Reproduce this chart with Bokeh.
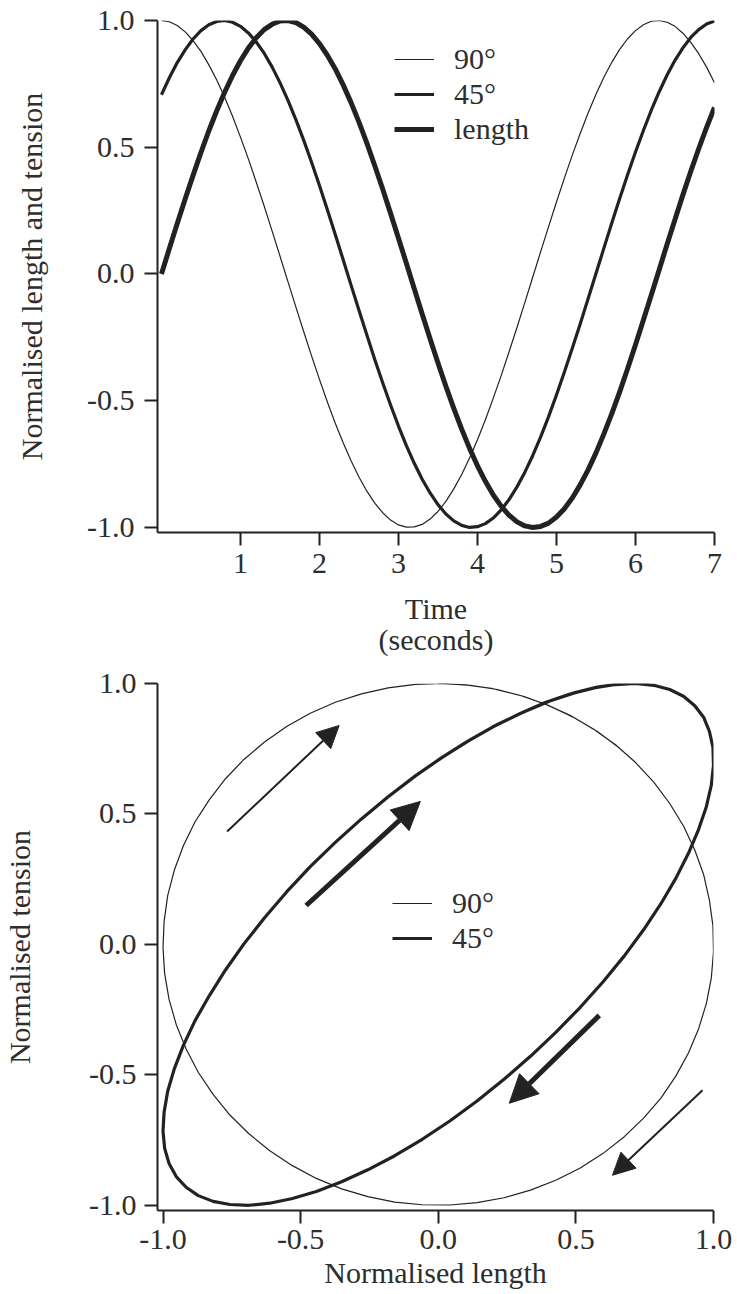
from bokeh.plotting import figure
from bokeh.models import FixedTicker, Legend, LegendItem, Arrow, NormalHead, Range1d
from bokeh.layouts import column
from bokeh.embed import file_html
from bokeh.resources import INLINE

# ---------------- data ----------------
time_s = [0.0, 0.1, 0.2, 0.3, 0.4, 0.5, 0.6, 0.7, 0.8, 0.9,
          1.0, 1.1, 1.2, 1.3, 1.4, 1.5, 1.6, 1.7, 1.8, 1.9,
          2.0, 2.1, 2.2, 2.3, 2.4, 2.5, 2.6, 2.7, 2.8, 2.9,
          3.0, 3.1, 3.2, 3.3, 3.4, 3.5, 3.6, 3.7, 3.8, 3.9,
          4.0, 4.1, 4.2, 4.3, 4.4, 4.5, 4.6, 4.7, 4.8, 4.9,
          5.0, 5.1, 5.2, 5.3, 5.4, 5.5, 5.6, 5.7, 5.8, 5.9,
          6.0, 6.1, 6.2, 6.3, 6.4, 6.5, 6.6, 6.7, 6.8, 6.9, 7.0]

# tension, 90 degree phase
tension_90 = [1.000, 0.995, 0.980, 0.955, 0.921, 0.878, 0.825, 0.765, 0.697, 0.622,
              0.540, 0.454, 0.362, 0.268, 0.170, 0.071, -0.029, -0.129, -0.227, -0.323,
              -0.416, -0.505, -0.589, -0.666, -0.737, -0.801, -0.857, -0.904, -0.942, -0.971,
              -0.990, -0.999, -0.998, -0.988, -0.967, -0.937, -0.897, -0.848, -0.791, -0.726,
              -0.654, -0.575, -0.490, -0.401, -0.307, -0.211, -0.112, -0.012, 0.088, 0.187,
              0.284, 0.378, 0.469, 0.554, 0.635, 0.709, 0.776, 0.835, 0.886, 0.928,
              0.960, 0.983, 0.997, 1.000, 0.993, 0.977, 0.950, 0.914, 0.869, 0.816, 0.754]

# tension, 45 degree phase
tension_45 = [0.707, 0.774, 0.834, 0.884, 0.927, 0.960, 0.983, 0.996, 1.000, 0.993,
              0.977, 0.951, 0.915, 0.871, 0.817, 0.755, 0.686, 0.610, 0.528, 0.441,
              0.349, 0.253, 0.156, 0.056, -0.044, -0.143, -0.241, -0.337, -0.429, -0.517,
              -0.600, -0.677, -0.747, -0.810, -0.864, -0.910, -0.947, -0.974, -0.992, -1.000,
              -0.997, -0.985, -0.963, -0.931, -0.890, -0.840, -0.782, -0.716, -0.643, -0.563,
              -0.477, -0.387, -0.293, -0.197, -0.098, 0.002, 0.102, 0.201, 0.298, 0.391,
              0.481, 0.566, 0.646, 0.719, 0.785, 0.843, 0.892, 0.933, 0.964, 0.986, 0.998]

# normalised length
length = [0.000, 0.100, 0.199, 0.296, 0.389, 0.479, 0.565, 0.644, 0.717, 0.783,
          0.841, 0.891, 0.932, 0.964, 0.985, 0.998, 1.000, 0.992, 0.974, 0.946,
          0.909, 0.863, 0.809, 0.746, 0.676, 0.599, 0.516, 0.427, 0.335, 0.239,
          0.141, 0.042, -0.058, -0.158, -0.256, -0.351, -0.443, -0.530, -0.612, -0.688,
          -0.757, -0.818, -0.872, -0.916, -0.952, -0.978, -0.994, -1.000, -0.996, -0.983,
          -0.959, -0.926, -0.884, -0.832, -0.773, -0.706, -0.631, -0.551, -0.465, -0.374,
          -0.279, -0.182, -0.083, 0.017, 0.117, 0.215, 0.312, 0.405, 0.494, 0.578, 0.657]

series_names = ["90°", "45°", "length"]

top_x_ticks = [1, 2, 3, 4, 5, 6, 7]
top_x_labels = ["1", "2", "3", "4", "5", "6", "7"]
unit_ticks = [-1.0, -0.5, 0.0, 0.5, 1.0]
unit_labels = ["-1.0", "-0.5", "0.0", "0.5", "1.0"]

# direction arrows in the length/tension plane (start -> tip)
thin_arrow_x0 = [-0.767, 0.960]
thin_arrow_y0 = [0.433, -0.559]
thin_arrow_x1 = [-0.360, 0.633]
thin_arrow_y1 = [0.839, -0.885]
thick_arrow_x0 = [-0.480, 0.585]
thick_arrow_y0 = [0.149, -0.272]
thick_arrow_x1 = [-0.065, 0.258]
thick_arrow_y1 = [0.548, -0.609]

# ---------------- styling ----------------
FONT = "Liberation Serif"
TXT = "#2e2e2e"
INK = "#222222"
TICK_FS = "30px"
LABEL_FS = "30px"


def style(p, xticks, xlabels, yticks, ylabels):
    p.xgrid.visible = False
    p.ygrid.visible = False
    p.outline_line_color = None
    for ax, ticks, labels in ((p.xaxis[0], xticks, xlabels), (p.yaxis[0], yticks, ylabels)):
        ax.ticker = FixedTicker(ticks=ticks)
        ax.major_label_overrides = {t: l for t, l in zip(ticks, labels)}
        ax.minor_tick_line_color = None
        ax.major_tick_in = 0
        ax.major_tick_out = 13
        ax.major_tick_line_width = 2
        ax.major_tick_line_color = INK
        ax.axis_line_width = 2
        ax.axis_line_color = INK
        ax.major_label_text_font = FONT
        ax.major_label_text_font_size = TICK_FS
        ax.major_label_text_color = TXT
        ax.major_label_standoff = 8
        ax.axis_label_text_font = FONT
        ax.axis_label_text_font_size = LABEL_FS
        ax.axis_label_text_font_style = "normal"
        ax.axis_label_text_color = TXT
        ax.axis_label_text_line_height = 0.95


# ---------------- top: time courses ----------------
p1 = figure(frame_width=557, frame_height=512,
            x_range=Range1d(-0.05, 7.0), y_range=Range1d(-1.02, 1.0),
            min_border_left=150, min_border_right=30, min_border_top=20, min_border_bottom=118,
            output_backend="svg", toolbar_location=None)
style(p1, top_x_ticks, top_x_labels, unit_ticks, unit_labels)
p1.xaxis.axis_label = "Time\n(seconds)"
p1.yaxis.axis_label = "Normalised length and tension"
p1.xaxis.axis_label_standoff = 16
p1.yaxis.axis_label_standoff = 36
p1.yaxis.major_label_standoff = 10

r90 = p1.line(time_s, tension_90, line_width=1.2, line_color=INK, line_join="round")
r45 = p1.line(time_s, tension_45, line_width=3.2, line_color=INK, line_join="round")
rlen = p1.line(time_s, length, line_width=5, line_color=INK, line_join="round")

leg1 = Legend(items=[LegendItem(label=series_names[0], renderers=[r90]),
                     LegendItem(label=series_names[1], renderers=[r45]),
                     LegendItem(label=series_names[2], renderers=[rlen])],
              location=(237, 386), padding=0, margin=0, spacing=1,
              glyph_width=40, glyph_height=20, label_standoff=20,
              border_line_color=None, background_fill_alpha=0,
              label_text_font=FONT, label_text_font_size=LABEL_FS, label_text_color=TXT)
p1.add_layout(leg1)

# ---------------- bottom: length vs tension loops ----------------
p2 = figure(frame_width=556, frame_height=527,
            x_range=Range1d(-1.02, 1.0), y_range=Range1d(-1.02, 1.0),
            min_border_left=157, min_border_right=24, min_border_top=25, min_border_bottom=92,
            output_backend="svg", toolbar_location=None)
style(p2, unit_ticks, unit_labels, unit_ticks, unit_labels)
p2.xaxis.axis_label = "Normalised length"
p2.yaxis.axis_label = "Normalised tension"
p2.xaxis.axis_label_standoff = 4
p2.yaxis.axis_label_standoff = 50
p2.xaxis.major_label_standoff = 6

c90 = p2.line(length, tension_90, line_width=1.2, line_color=INK, line_join="round")
c45 = p2.line(length, tension_45, line_width=3.2, line_color=INK, line_join="round")

for x0, y0, x1, y1 in zip(thin_arrow_x0, thin_arrow_y0, thin_arrow_x1, thin_arrow_y1):
    p2.add_layout(Arrow(end=NormalHead(size=22, fill_color=INK, line_color=INK),
                        x_start=x0, y_start=y0, x_end=x1, y_end=y1,
                        line_width=2, line_color=INK))
for x0, y0, x1, y1 in zip(thick_arrow_x0, thick_arrow_y0, thick_arrow_x1, thick_arrow_y1):
    p2.add_layout(Arrow(end=NormalHead(size=28, fill_color=INK, line_color=INK),
                        x_start=x0, y_start=y0, x_end=x1, y_end=y1,
                        line_width=5, line_color=INK))

leg2 = Legend(items=[LegendItem(label=series_names[0], renderers=[c90]),
                     LegendItem(label=series_names[1], renderers=[c45])],
              location=(235, 255), padding=0, margin=0, spacing=1,
              glyph_width=40, glyph_height=20, label_standoff=20,
              border_line_color=None, background_fill_alpha=0,
              label_text_font=FONT, label_text_font_size=LABEL_FS, label_text_color=TXT)
p2.add_layout(leg2)

layout = column(p1, p2, spacing=0)
open("out.html", "w").write(file_html(layout, INLINE))
